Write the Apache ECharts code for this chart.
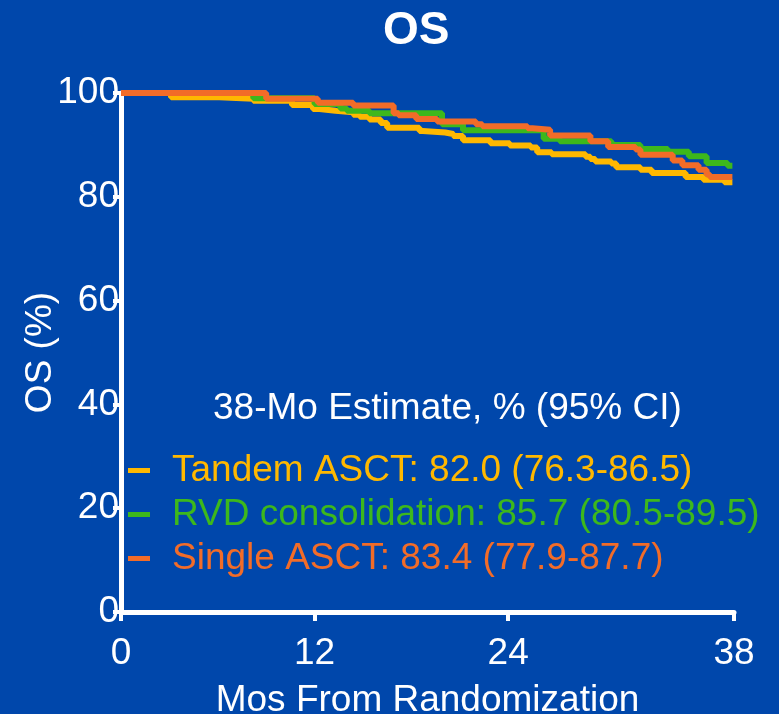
<!DOCTYPE html>
<html>
<head>
<meta charset="utf-8">
<script src="https://cdn.jsdelivr.net/npm/echarts@6/dist/echarts.min.js"></script>
<style>
html,body{margin:0;padding:0;background:#0047ab;}
#chart{width:779px;height:714px;}
</style>
</head>
<body>
<div id="chart"></div>
<script>
// ---- data ----
const seriesNames = ['Tandem ASCT', 'RVD consolidation', 'Single ASCT'];
const estimates = ['82.0 (76.3-86.5)', '85.7 (80.5-89.5)', '83.4 (77.9-87.7)'];
const xTicks = [0, 12, 24, 38];

const tandemTimes = [0, 3.1, 6.1, 8.2, 10.6, 11.9, 12.3, 13.3, 14.4, 14.8, 15.4, 16.1, 16.5, 18.5, 18.7, 20.1, 20.6, 21.2, 22.9, 24.1, 25.4, 25.8, 26.7, 28.8, 29.1, 29.4, 30.4, 30.7, 32.2, 32.9, 35.0, 36.1, 37.4, 37.9];
const tandemSurv  = [100, 99.2, 98.9, 98.5, 97.7, 96.9, 96.6, 96.3, 95.8, 95.4, 94.9, 94.2, 93.3, 92.7, 92.4, 92.1, 91.7, 90.9, 90.3, 89.9, 89.5, 88.6, 88.2, 87.7, 87.3, 86.8, 86.4, 85.7, 85.2, 84.6, 83.8, 83.3, 82.8, 82.8];

const rvdTimes = [0, 8.2, 12.0, 13.6, 14.0, 15.4, 19.9, 21.2, 26.2, 27.2, 30.4, 32.2, 33.9, 35.2, 36.3, 37.6, 37.9];
const rvdSurv  = [100, 99.0, 97.9, 97.0, 96.6, 96.1, 94.0, 92.8, 91.2, 90.7, 90.0, 89.2, 88.7, 87.8, 86.5, 86.0, 86.0];

const singleTimes = [0, 9.0, 12.2, 14.4, 16.9, 17.2, 18.3, 19.6, 22.0, 22.4, 25.2, 25.5, 26.6, 29.1, 30.2, 31.9, 32.2, 34.2, 34.8, 35.8, 36.3, 36.5, 37.9];
const singleSurv  = [100, 98.9, 98.1, 97.6, 96.1, 95.7, 95.0, 94.5, 94.0, 93.6, 93.2, 92.9, 91.8, 90.7, 89.6, 89.1, 88.1, 87.0, 86.1, 85.2, 84.3, 83.8, 83.8];

const colors = ['#ffb800', '#3db81c', '#f26c28'];
const font = "'Liberation Sans', Arial, sans-serif";

function pairs(t, s) { return t.map((v, i) => [v, s[i]]); }
const curves = [pairs(tandemTimes, tandemSurv), pairs(rvdTimes, rvdSurv), pairs(singleTimes, singleSurv)];

const chart = echarts.init(document.getElementById('chart'), null, {renderer: 'canvas'});
chart.setOption({
  backgroundColor: '#0047ab',
  animation: false,
  title: [
    {text: 'OS', left: 378, top: 3,
     textStyle: {color: '#fff', fontSize: 46, fontWeight: 'bold', fontFamily: font}},
    {text: '38-Mo Estimate, % (95% CI)', left: 208, top: 385,
     textStyle: {color: '#fff', fontSize: 37, fontWeight: 'normal', fontFamily: font}}
  ],
  grid: {left: 121, right: 45, top: 93, bottom: 102, containLabel: false, outerBoundsMode: 'none'},
  legend: {
    orient: 'vertical', left: 123, top: 447, itemWidth: 22, itemHeight: 5, itemGap: 7,
    icon: 'rect',
    data: seriesNames.map((n, i) => ({name: n, textStyle: {color: colors[i]}})),
    formatter: function (name) { return name + ': ' + estimates[seriesNames.indexOf(name)]; },
    textStyle: {fontSize: 37, fontFamily: font, padding: [0, 0, 0, 17]}
  },
  xAxis: {
    type: 'value', min: 0, max: 38,
    name: 'Mos From Randomization', nameLocation: 'middle', nameGap: 70, nameMoveOverlap: false,
    nameTextStyle: {color: '#fff', fontSize: 37, fontFamily: font},
    axisLine: {show: true, lineStyle: {color: '#fff', width: 5}},
    axisTick: {show: true, customValues: xTicks, length: 9, lineStyle: {color: '#fff', width: 4}},
    axisLabel: {customValues: xTicks, color: '#fff', fontSize: 37, fontFamily: font, margin: 23},
    splitLine: {show: false}
  },
  yAxis: {
    type: 'value', min: 0, max: 100, interval: 20,
    name: 'OS (%)', nameLocation: 'middle', nameGap: 62, nameMoveOverlap: false,
    nameTextStyle: {color: '#fff', fontSize: 37, fontFamily: font},
    axisLine: {show: true, lineStyle: {color: '#fff', width: 5}},
    axisTick: {show: true, length: 8, lineStyle: {color: '#fff', width: 4}},
    axisLabel: {color: '#fff', fontSize: 37, fontFamily: font, margin: 2},
    splitLine: {show: false}
  },
  series: seriesNames.map((n, i) => ({
    name: n, type: 'line', step: 'end', data: curves[i],
    showSymbol: false, symbol: 'none', z: 2 + i,
    lineStyle: {color: colors[i], width: 6},
    itemStyle: {color: colors[i]}
  }))
});
</script>
</body>
</html>
